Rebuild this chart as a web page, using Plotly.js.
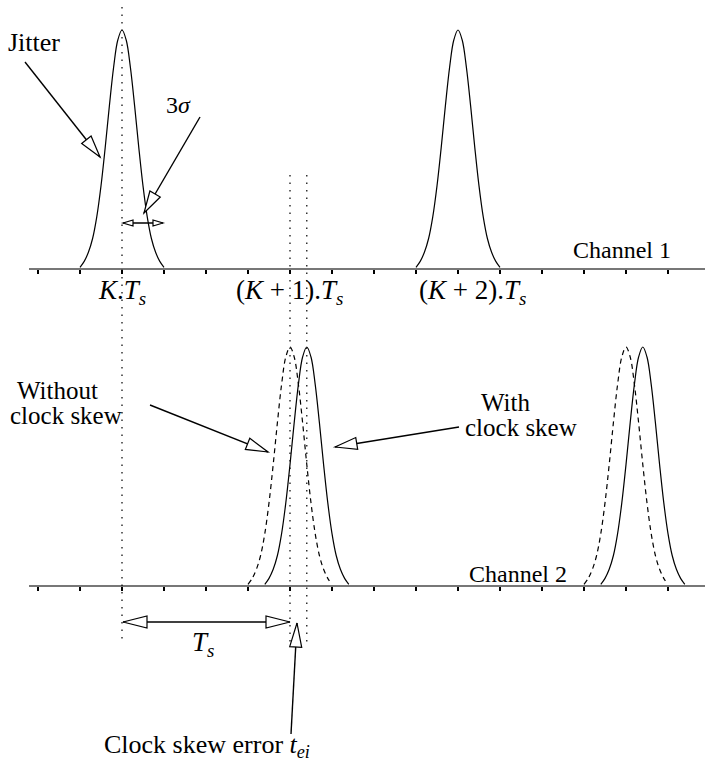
<!DOCTYPE html>
<html>
<head>
<meta charset="utf-8">
<script src="https://cdn.plot.ly/plotly-3.0.1.min.js"></script>
<style>html,body{margin:0;padding:0;background:#fff}#chart{width:705px;height:763px}</style>
</head>
<body>
<div id="chart"></div>
<script>
// ---- data (time in units of the sampling period Ts, K.Ts = 0) ----
const tickValues = [-0.5, -0.25, 0, 0.25, 0.5, 0.75, 1, 1.25, 1.5, 1.75, 2, 2.25, 2.5, 2.75, 3, 3.25];
const sampleTimes = [0, 1, 2];
const sampleLabels = ['<i>K</i>.<i>T<sub>s</sub></i>', '(<i>K</i> + 1).<i>T<sub>s</sub></i>', '(<i>K</i> + 2).<i>T<sub>s</sub></i>'];
const ch1Centers = [0, 2];           // channel 1 pulses
const ch2Nominal = [1, 3];           // channel 2, without clock skew (dashed)
const ch2Skewed = [1.1, 3.1];        // channel 2, with clock skew (solid)
const pulseOffsets = [-0.25,-0.225,-0.2,-0.175,-0.15,-0.125,-0.1,-0.075,-0.05,-0.025,0,0.025,0.05,0.075,0.1,0.125,0.15,0.175,0.2,0.225,0.25];
const pulseProfile = [0.003,0.028,0.066,0.124,0.216,0.345,0.506,0.682,0.843,0.958,1,0.958,0.843,0.682,0.506,0.345,0.216,0.124,0.066,0.028,0.003];

// ---- helpers ----
const W = 705, H = 763;
const P = x => x / W;
const Q = y => 1 - y / H;
const FONT = 'Liberation Serif';

function pulse(center, xa, ya, dash) {
  return {
    type: 'scatter', mode: 'lines', xaxis: xa, yaxis: ya,
    x: pulseOffsets.map(o => center + o), y: pulseProfile,
    line: {color: '#000', width: 1.2, dash: dash || 'solid', shape: 'spline', smoothing: 1},
    hoverinfo: 'skip', showlegend: false
  };
}

const traces = [];
ch1Centers.forEach(c => traces.push(pulse(c, 'x', 'y')));
ch2Nominal.forEach(c => traces.push(pulse(c, 'x2', 'y2', '5px,4px')));
ch2Skewed.forEach(c => traces.push(pulse(c, 'x2', 'y2')));
traces.push({
  type: 'scatter', mode: 'markers', xaxis: 'x', yaxis: 'y',
  x: sampleTimes, y: sampleTimes.map(() => -0.013),
  marker: {color: '#000', size: 15}, cliponaxis: false, hoverinfo: 'skip', showlegend: false
});

const shapes = [];
function vdot(xv, y0, y1) {
  shapes.push({type: 'line', xref: 'x', yref: 'paper', x0: xv, x1: xv, y0: Q(y0), y1: Q(y1),
    line: {color: '#000', width: 1.2, dash: '1.5px,6px'}});
}
vdot(sampleTimes[0], 7, 643);
vdot(ch2Nominal[0], 175, 643);
vdot(ch2Skewed[0], 175, 643);

function head(xt, yt, ux, uy, len, half) {
  const bx = xt - ux * len, by = yt - uy * len;
  const px = -uy, py = ux;
  const a = [bx + px * half, by + py * half], b = [bx - px * half, by - py * half];
  shapes.push({type: 'path', xref: 'paper', yref: 'paper',
    path: `M ${P(xt)} ${Q(yt)} L ${P(a[0])} ${Q(a[1])} L ${P(b[0])} ${Q(b[1])} Z`,
    fillcolor: '#fff', line: {color: '#000', width: 1.2}});
}
function arrow(x0, y0, x1, y1, len, half, both) {
  const dx = x1 - x0, dy = y1 - y0, L = Math.hypot(dx, dy);
  const ux = dx / L, uy = dy / L;
  shapes.push({type: 'line', xref: 'paper', yref: 'paper', x0: P(x0), y0: Q(y0), x1: P(x1), y1: Q(y1),
    line: {color: '#000', width: 1.4}});
  head(x1, y1, ux, uy, len, half);
  if (both) head(x0, y0, -ux, -uy, len, half);
}
arrow(25, 62, 100, 157, 22, 6);          // Jitter
arrow(200, 117, 144, 213, 22, 6);        // 3 sigma
arrow(123, 223, 163, 223, 10, 3, true);  // 3 sigma width
arrow(150, 405, 268, 452, 22, 6);        // without clock skew
arrow(459, 427, 335, 447, 22, 6);        // with clock skew
arrow(123, 622, 290, 622, 24, 6, true);  // Ts
arrow(291, 734, 297, 623, 24, 6);        // clock skew error

const annotations = [];
function txt(text, x, y, size) {
  annotations.push({text: text, xref: 'paper', yref: 'paper', x: P(x), y: Q(y),
    xanchor: 'center', yanchor: 'middle', showarrow: false,
    font: {family: FONT, size: size, color: '#000'}});
}
txt('Jitter', 34, 42, 26);
txt('3<i>σ</i>', 179, 105, 24);
txt('Channel 1', 622, 250, 24);
txt('Channel 2', 518, 574, 24);
const labelX = [122, 289, 472];
sampleLabels.forEach((s, i) => txt(s, labelX[i], 292, 27));
txt('Without', 58, 390, 25);
txt('clock skew', 66, 415, 25);
txt('With', 505, 403, 25);
txt('clock skew', 521, 427, 25);
txt('<i>T<sub>s</sub></i>', 203, 644, 27);
txt('Clock skew error <i>t<sub>ei</sub></i>', 207, 746, 26);

const axisCommon = {
  domain: [29 / W, 1], range: [(29 - 122) / 168, (705 - 122) / 168],
  showline: true, linecolor: '#777', linewidth: 2,
  ticks: 'outside', ticklen: 4, tickwidth: 1.2, tickcolor: '#000',
  tickmode: 'array', tickvals: tickValues, showticklabels: false,
  showgrid: false, zeroline: false, fixedrange: true
};
const yCommon = {range: [0, 268 / 238], visible: false, showgrid: false, zeroline: false, fixedrange: true};

const layout = {
  width: W, height: H, margin: {l: 0, r: 0, t: 0, b: 0},
  paper_bgcolor: '#fff', plot_bgcolor: 'rgba(0,0,0,0)', showlegend: false,
  font: {family: FONT, size: 24, color: '#000'},
  xaxis: Object.assign({}, axisCommon, {anchor: 'y'}),
  yaxis: Object.assign({}, yCommon, {domain: [Q(268), 1], anchor: 'x'}),
  xaxis2: Object.assign({}, axisCommon, {anchor: 'y2'}),
  yaxis2: Object.assign({}, yCommon, {domain: [Q(585), Q(317)], anchor: 'x2'}),
  shapes: shapes, annotations: annotations
};

Plotly.newPlot('chart', traces, layout, {staticPlot: true, displayModeBar: false});
</script>
</body>
</html>
